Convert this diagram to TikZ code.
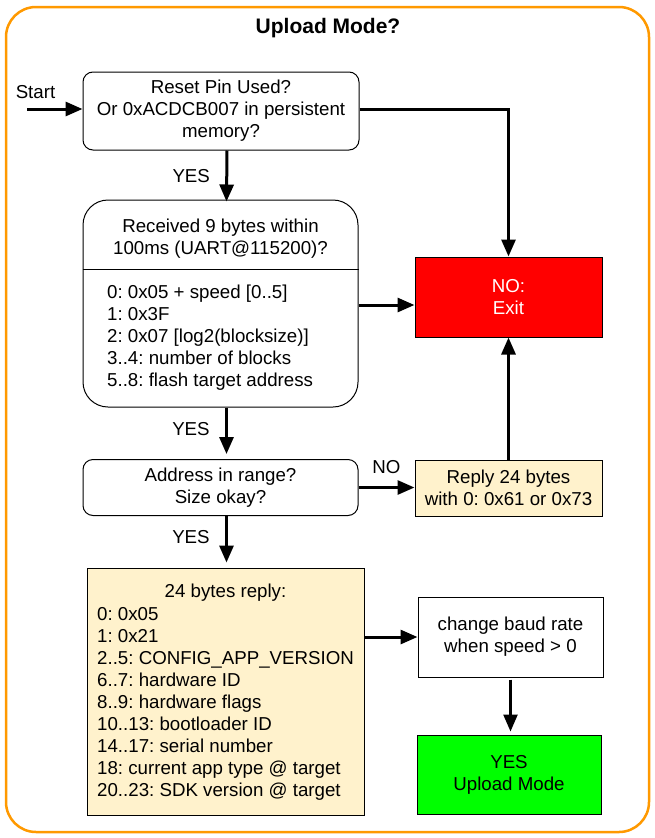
\documentclass[tikz,border=0pt]{standalone}
\usepackage{fontspec}
\setmainfont{Liberation Sans}
\frenchspacing
\usetikzlibrary{arrows.meta,positioning,calc}
\definecolor{frameorange}{RGB}{255,153,0}
\definecolor{replyyellow}{RGB}{255,242,204}
\definecolor{exitred}{RGB}{255,0,0}
\definecolor{modegreen}{RGB}{0,255,0}
\tikzset{% boxes of the flow chart
	mybox/.style={draw, line width=1pt, align=center, inner sep=0pt},
	myround/.style={mybox, rounded corners=#1},
	myround/.default=10pt,
	mytext/.style={inner sep=0pt, align=left, anchor=west},
	myarrow/.style={-{Triangle[length=17pt,width=14pt]}, line width=3pt}
}

\begin{document}
\begin{tikzpicture}[x=1pt, y=-1pt, every node/.style={font=\fontsize{18.7}{22}\selectfont}]
	\useasboundingbox (0,0) rectangle (655,838);
	\draw[frameorange, line width=2.5pt, rounded corners=30pt] (6,7) rectangle (649,832);
	\node[font=\fontsize{21}{25}\selectfont\bfseries] (title) at (328,28) {Upload Mode?};
	
	% left column
	\node[myround, minimum width=276, minimum height=78] (reset) at (221,111)
		{Reset Pin Used?\\Or 0xACDCB007 in persistent\\memory?};
	\node[myround=25pt, minimum width=275, minimum height=207] (recv) at (220.5,303.5) {};
	\node[align=center, inner sep=0pt] (recvtitle) at (220.5,238.5)
		{Received 9 bytes within\\100ms (UART@115200)?};
	\node[mytext] (recvlist) at (107,337.5)
		{0: 0x05 + speed [0..5]\\1: 0x3F\\2: 0x07 [log2(blocksize)]\\3..4: number of blocks\\5..8: flash target address};
	\coordinate (split) at (0,269);
	\draw[line width=1pt] (recv.west |- split) -- (recv.east |- split);
	\node[myround, minimum width=275, minimum height=56] (addr) at (220.5,487.5)
		{Address in range?\\Size okay?};
	\node[mybox, fill=replyyellow, minimum width=277, minimum height=247] (answer) at (225.5,691.5) {};
	\node[inner sep=0pt] (answertitle) at (225.5,593) {24 bytes reply:};
	\node[mytext] (answerlist) at (97,704)
		{0: 0x05\\1: 0x21\\2..5: CONFIG\_APP\_VERSION\\6..7: hardware ID\\8..9: hardware flags\\10..13: bootloader ID\\14..17: serial number\\18: current app type @ target\\20..23: SDK version @ target};
	
	% right column
	\node[mybox, fill=exitred, text=white, minimum width=187, minimum height=80] (noexit) at (508.5,297) {NO:\\Exit};
	\node[mybox, fill=replyyellow, minimum width=187, minimum height=56] (reply) at (508.5,488)
		{Reply 24 bytes\\with 0: 0x61 or 0x73};
	\node[mybox, minimum width=185, minimum height=80] (baud) at (510.5,637)
		{change baud rate\\when speed > 0};
	\node[mybox, fill=modegreen, minimum width=184, minimum height=79] (upload) at (509,774.5)
		{YES\\Upload Mode};
	
	% connectors
	\coordinate (start) at (27,109);
	\node (startlabel) at (35.5,92) {Start};
	\draw[myarrow] (start) -- (start -| reset.west);
	\draw[myarrow] ([yshift=2pt]reset.east) -| (noexit.north);
	\draw[myarrow] ([xshift=6pt]reset.south) -- node[left=12pt]{YES} ([xshift=6pt,yshift=-2pt]recv.north);
	\draw[myarrow] ([yshift=-1.5pt]recv.east) -- ([yshift=-1.5pt]recv.east -| noexit.west);
	\draw[myarrow, shorten >=5pt] ([xshift=6pt]recv.south) -- node[pos=0.42, left=12pt]{YES} ([xshift=6pt]addr.north);
	\draw[myarrow] (addr.east) -- node[above=9pt]{NO} (addr.east -| reply.west);
	\draw[myarrow] (reply.north) -- (noexit.south);
	\draw[myarrow, shorten >=5pt] ([xshift=6pt]addr.south) -- node[pos=0.4, left=12pt]{YES} ([xshift=6pt]addr.south |- answer.north);
	\draw[myarrow] (answer.east |- baud.west) -- (baud.west);
	\draw[myarrow, line width=2.5pt, shorten <=2pt, shorten >=3pt] (baud.south) -- (baud.south |- upload.north);
\end{tikzpicture}
\end{document}
